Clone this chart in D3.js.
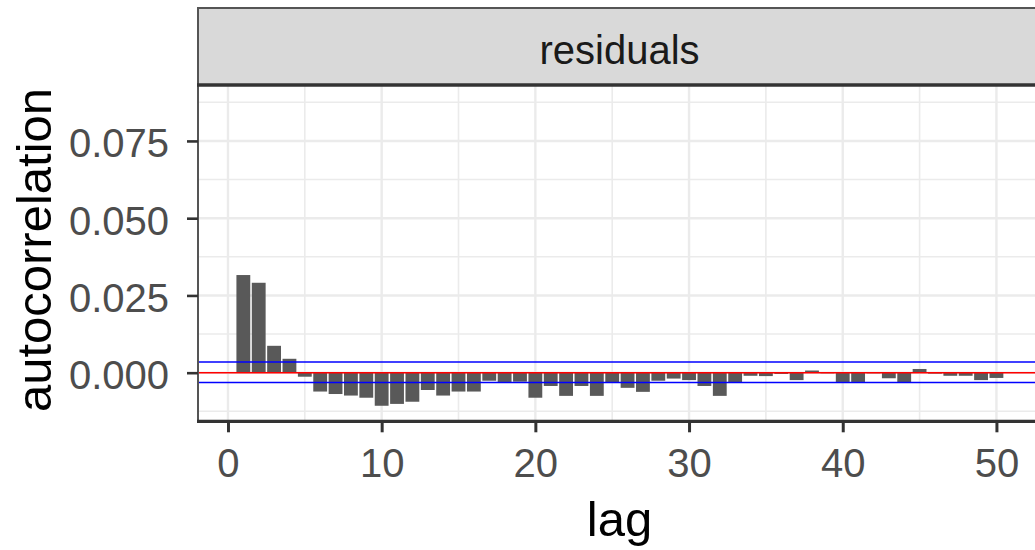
<!DOCTYPE html>
<html>
<head>
<meta charset="utf-8">
<script src="https://cdn.jsdelivr.net/npm/d3@7"></script>
<style>
  html, body { margin: 0; padding: 0; background: #fff; }
  svg { display: block; }
  text { font-family: "Liberation Sans", Arial, sans-serif; }
</style>
</head>
<body>
<svg id="chart" width="1035" height="550"></svg>
<script>
// Autocorrelation of the residuals, lags 1..50
const lags = d3.range(1, 51);
const acf = [
  0.0316, 0.0291, 0.0087, 0.0045, -0.0013, -0.0061, -0.0069, -0.0074, -0.0081, -0.0107,
  -0.0101, -0.0094, -0.0056, -0.0074, -0.0061, -0.0061, -0.0026, -0.0030, -0.0029, -0.0081,
  -0.0043, -0.0075, -0.0043, -0.0075, -0.0032, -0.0049, -0.0062, -0.0026, -0.0019, -0.0024,
  -0.0043, -0.0075, -0.0032, -0.0010, -0.0011, -0.0004, -0.0024, 0.0007, -0.0002, -0.0030,
  -0.0030, -0.0002, -0.0018, -0.0032, 0.0012, -0.0003, -0.0010, -0.0010, -0.0024, -0.0017
];
const ciUpper = 0.0035;
const ciLower = -0.0032;
const xTicks = [0, 10, 20, 30, 40, 50];
const xMinor = [5, 15, 25, 35, 45];
const yTicks = [0, 0.025, 0.05, 0.075];
const yMinor = [-0.0125, 0.0125, 0.0375, 0.0625, 0.0875];
const facetLabel = "residuals";

const svg = d3.select("#chart");
const panel = { left: 198, right: 1041, top: 85, bottom: 421.3 };
const strip = { top: 8, bottom: 85 };

const x = d3.scaleLinear().domain([-1.95, 52.9]).range([panel.left, panel.right]);
const y = d3.scaleLinear().domain([-0.01573, 0.0931]).range([panel.bottom, panel.top]);

const grid = "#EBEBEB", dark = "#333333";

// clip region for the panel contents
svg.append("defs").append("clipPath").attr("id", "panelClip")
  .append("rect")
  .attr("x", panel.left).attr("y", panel.top)
  .attr("width", panel.right - panel.left).attr("height", panel.bottom - panel.top);

const g = svg.append("g").attr("clip-path", "url(#panelClip)");

g.append("rect")
  .attr("x", panel.left).attr("y", panel.top)
  .attr("width", panel.right - panel.left).attr("height", panel.bottom - panel.top)
  .attr("fill", "#fff");

// minor grid
g.selectAll(".vminor").data(xMinor).join("line")
  .attr("x1", d => x(d)).attr("x2", d => x(d))
  .attr("y1", panel.top).attr("y2", panel.bottom)
  .attr("stroke", grid).attr("stroke-width", 1.6);
g.selectAll(".hminor").data(yMinor).join("line")
  .attr("y1", d => y(d)).attr("y2", d => y(d))
  .attr("x1", panel.left).attr("x2", panel.right)
  .attr("stroke", grid).attr("stroke-width", 1.6);

// major grid
g.selectAll(".vmajor").data(xTicks).join("line")
  .attr("x1", d => x(d)).attr("x2", d => x(d))
  .attr("y1", panel.top).attr("y2", panel.bottom)
  .attr("stroke", grid).attr("stroke-width", 2.4);
g.selectAll(".hmajor").data(yTicks).join("line")
  .attr("y1", d => y(d)).attr("y2", d => y(d))
  .attr("x1", panel.left).attr("x2", panel.right)
  .attr("stroke", grid).attr("stroke-width", 2.4);

// bars (width 0.9 lag units)
const barW = 0.9;
g.selectAll(".bar").data(lags.map((l, i) => ({ lag: l, v: acf[i] }))).join("rect")
  .attr("x", d => x(d.lag - barW / 2))
  .attr("width", d => x(d.lag + barW / 2) - x(d.lag - barW / 2))
  .attr("y", d => y(Math.max(0, d.v)))
  .attr("height", d => Math.abs(y(d.v) - y(0)))
  .attr("fill", "#595959");

// confidence band and zero line
[ciUpper, ciLower].forEach(v => {
  g.append("line")
    .attr("x1", panel.left).attr("x2", panel.right)
    .attr("y1", y(v)).attr("y2", y(v))
    .attr("stroke", "#0000FF").attr("stroke-width", 1.5);
});
g.append("line")
  .attr("x1", panel.left).attr("x2", panel.right)
  .attr("y1", y(0)).attr("y2", y(0))
  .attr("stroke", "#FF0000").attr("stroke-width", 1.5);

// panel left border
svg.append("line")
  .attr("x1", panel.left).attr("x2", panel.left)
  .attr("y1", panel.top).attr("y2", panel.bottom)
  .attr("stroke", "#555").attr("stroke-width", 2);

// facet strip
svg.append("rect")
  .attr("x", panel.left).attr("y", strip.top)
  .attr("width", panel.right - panel.left).attr("height", strip.bottom - strip.top)
  .attr("fill", "#D9D9D9").attr("stroke", "#555").attr("stroke-width", 2);
svg.append("line")
  .attr("x1", panel.left - 1).attr("x2", panel.right)
  .attr("y1", strip.bottom).attr("y2", strip.bottom)
  .attr("stroke", dark).attr("stroke-width", 3.5);
svg.append("text")
  .attr("x", (panel.left + panel.right) / 2).attr("y", 64)
  .attr("text-anchor", "middle")
  .attr("font-size", 40).attr("fill", "#1A1A1A")
  .text(facetLabel);

// bottom axis
const xAxis = d3.axisBottom(x).tickValues(xTicks).tickSize(11).tickPadding(16).tickFormat(d3.format("d"));
const xg = svg.append("g").attr("transform", `translate(0,${panel.bottom})`).call(xAxis);
xg.select(".domain").remove();
xg.selectAll(".tick line").attr("stroke", dark).attr("stroke-width", 3);
xg.selectAll(".tick text")
  .attr("font-size", 40).attr("fill", "#4D4D4D")
  .attr("font-family", "'Liberation Sans', Arial, sans-serif");
svg.append("line")
  .attr("x1", panel.left - 1).attr("x2", panel.right)
  .attr("y1", panel.bottom).attr("y2", panel.bottom)
  .attr("stroke", dark).attr("stroke-width", 3.3);

// left axis
const yAxis = d3.axisLeft(y).tickValues(yTicks).tickSize(11).tickPadding(18).tickFormat(d3.format(".3f"));
const yg = svg.append("g").attr("transform", `translate(${panel.left},0)`).call(yAxis);
yg.select(".domain").remove();
yg.selectAll(".tick line").attr("stroke", dark).attr("stroke-width", 2.6);
yg.selectAll(".tick text")
  .attr("font-size", 40).attr("fill", "#4D4D4D").attr("dy", "0.4em")
  .attr("font-family", "'Liberation Sans', Arial, sans-serif");

// axis titles
svg.append("text")
  .attr("x", (panel.left + 1041) / 2).attr("y", 536)
  .attr("text-anchor", "middle").attr("font-size", 49).attr("fill", "#000")
  .text("lag");
svg.append("text")
  .attr("transform", "translate(51,250) rotate(-90)")
  .attr("text-anchor", "middle").attr("font-size", 49).attr("fill", "#000")
  .text("autocorrelation");
</script>
</body>
</html>
